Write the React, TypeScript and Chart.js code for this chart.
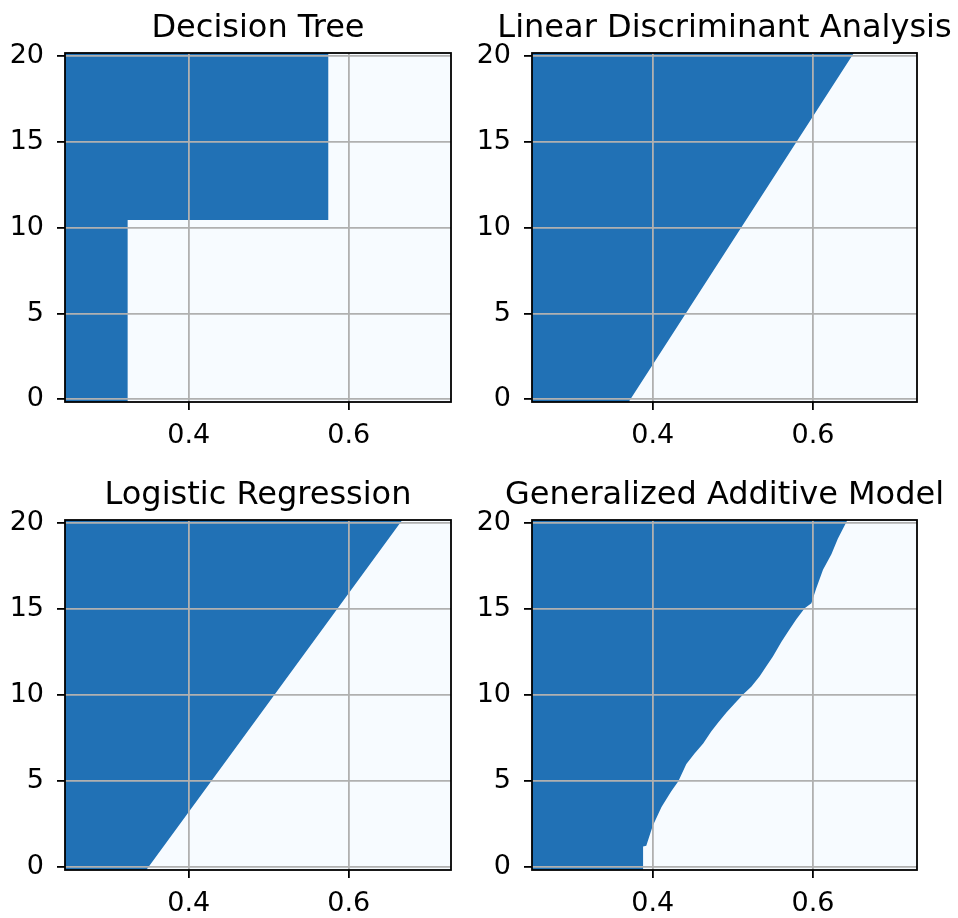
import React, { useEffect, useRef } from "react";
import { Chart, registerables } from "chart.js";

Chart.register(...registerables);

// ---- data ----
const Y_TICKS = [0, 5, 10, 15, 20];
const X_TICKS = [0.4, 0.6];
const Y_RANGE = [-0.16, 20.19];
const X_RANGE_LEFT = [0.2454, 0.7279];
const X_RANGE_RIGHT = [0.2494, 0.7298];

const TITLES = [
  "Decision Tree",
  "Linear Discriminant Analysis",
  "Logistic Regression",
  "Generalized Additive Model",
];

// Boundary of the dark (class 1) region: x value at each y
const DT_Y = [-0.16, 10.45, 10.45, 20.19];
const DT_X = [0.3237, 0.3237, 0.5745, 0.5745];

const LDA_Y = [-0.16, 20.19];
const LDA_X = [0.370, 0.651];

const LR_Y = [-0.16, 20.19];
const LR_X = [0.347, 0.667];

const GAM_Y = [-0.16, 1.2, 1.25, 2.4, 3.5, 4.4, 5.0, 6.0, 6.6, 7.2, 7.9, 8.4, 9.0, 9.5, 10.06, 10.5, 11.1, 11.7, 12.25, 13.1, 13.7, 14.4, 15.06, 15.35, 16.2, 17.3, 18.2, 19.1, 20.19];
const GAM_X = [0.388, 0.388, 0.392, 0.400, 0.411, 0.423, 0.432, 0.442, 0.452, 0.463, 0.473, 0.4815, 0.492, 0.502, 0.513, 0.523, 0.5335, 0.542, 0.550, 0.5605, 0.569, 0.579, 0.5896, 0.598, 0.604, 0.6125, 0.623, 0.631, 0.643];

const DARK = "#2171b5";
const LIGHT = "#f7fbff";
const GRID = "#b0b0b0";
const FONT = "'DejaVu Sans', sans-serif";

const framePlugin = {
  id: "frame",
  afterDraw(chart: any) {
    const { ctx, chartArea: a } = chart;
    ctx.save();
    ctx.strokeStyle = "#000";
    ctx.lineWidth = 1.8;
    ctx.strokeRect(a.left, a.top, a.right - a.left, a.bottom - a.top);
    ctx.restore();
  },
};

type PanelProps = {
  title: string;
  bx: number[];
  by: number[];
  xr: number[];
  left: number;
  top: number;
  plotW: number;
  plotH: number;
};

function Panel({ title, bx, by, xr, left, top, plotW, plotH }: PanelProps) {
  const ref = useRef<HTMLCanvasElement>(null);
  const AXW = 65;
  const TOP = 53;
  const XH = 58;
  const W = AXW + plotW + AXW;
  const H = TOP + plotH + XH;

  useEffect(() => {
    const canvas = ref.current;
    if (!canvas) return;
    const dark = by.map((y, i) => ({ x: bx[i], y }));
    const light = [
      { x: xr[1], y: Y_RANGE[0] },
      { x: xr[1], y: Y_RANGE[1] },
    ];
    const gridOpts = {
      color: GRID,
      lineWidth: 1.8,
      tickColor: "#000",
      tickWidth: 1.8,
      tickLength: 8,
      drawTicks: true,
      z: 1,
    };
    const chart = new Chart(canvas, {
      type: "line",
      data: {
        datasets: [
          {
            data: light,
            fill: { value: xr[0] },
            backgroundColor: LIGHT,
            borderColor: "rgba(0,0,0,0)",
            borderWidth: 0,
            pointRadius: 0,
            order: 2,
          },
          {
            data: dark,
            fill: { value: xr[0] },
            backgroundColor: DARK,
            borderColor: "rgba(0,0,0,0)",
            borderWidth: 0,
            pointRadius: 0,
            order: 1,
          },
        ],
      },
      options: {
        indexAxis: "y",
        animation: false,
        responsive: false,
        devicePixelRatio: 1,
        layout: { padding: 0 },
        plugins: {
          legend: { display: false },
          tooltip: { enabled: false },
          title: {
            display: true,
            text: title,
            color: "#000",
            font: { family: FONT, size: 32, weight: "normal", lineHeight: "32px" },
            padding: { top: 13, bottom: 8 },
          },
        },
        scales: {
          x: {
            type: "linear",
            min: xr[0],
            max: xr[1],
            afterBuildTicks: (s: any) => {
              s.ticks = X_TICKS.map((v) => ({ value: v }));
            },
            afterFit: (s: any) => {
              s.height = XH;
            },
            grid: gridOpts,
            border: { display: false },
            ticks: {
              color: "#000",
              padding: 10,
              maxRotation: 0,
              font: { family: FONT, size: 27 },
              callback: (v: any) => Number(v).toFixed(1),
            },
          },
          y: {
            type: "linear",
            min: Y_RANGE[0],
            max: Y_RANGE[1],
            afterBuildTicks: (s: any) => {
              s.ticks = Y_TICKS.map((v) => ({ value: v }));
            },
            afterFit: (s: any) => {
              s.width = AXW;
            },
            grid: gridOpts,
            border: { display: false },
            ticks: {
              color: "#000",
              padding: 13,
              font: { family: FONT, size: 27 },
              callback: (v: any) => String(v),
            },
          },
          yRight: {
            type: "linear",
            position: "right",
            min: Y_RANGE[0],
            max: Y_RANGE[1],
            grid: { display: false, drawTicks: false },
            border: { display: false },
            ticks: { display: false },
            afterFit: (s: any) => {
              s.width = AXW;
            },
          },
        },
      } as any,
      plugins: [framePlugin],
    });
    return () => chart.destroy();
  }, []);

  return (
    <canvas
      ref={ref}
      width={W}
      height={H}
      style={{ position: "absolute", left, top, width: W, height: H }}
    />
  );
}

export default function App() {
  return (
    <div
      style={{
        position: "absolute",
        left: 0,
        top: 0,
        width: 958,
        height: 918,
        overflow: "hidden",
        background: "#fff",
      }}
    >
      <Panel title={TITLES[0]} bx={DT_X} by={DT_Y} xr={X_RANGE_LEFT} left={0} top={0} plotW={386} plotH={349} />
      <Panel title={TITLES[1]} bx={LDA_X} by={LDA_Y} xr={X_RANGE_RIGHT} left={467} top={0} plotW={385} plotH={349} />
      <Panel title={TITLES[2]} bx={LR_X} by={LR_Y} xr={X_RANGE_LEFT} left={0} top={467} plotW={386} plotH={350} />
      <Panel title={TITLES[3]} bx={GAM_X} by={GAM_Y} xr={X_RANGE_RIGHT} left={467} top={467} plotW={385} plotH={350} />
    </div>
  );
}
